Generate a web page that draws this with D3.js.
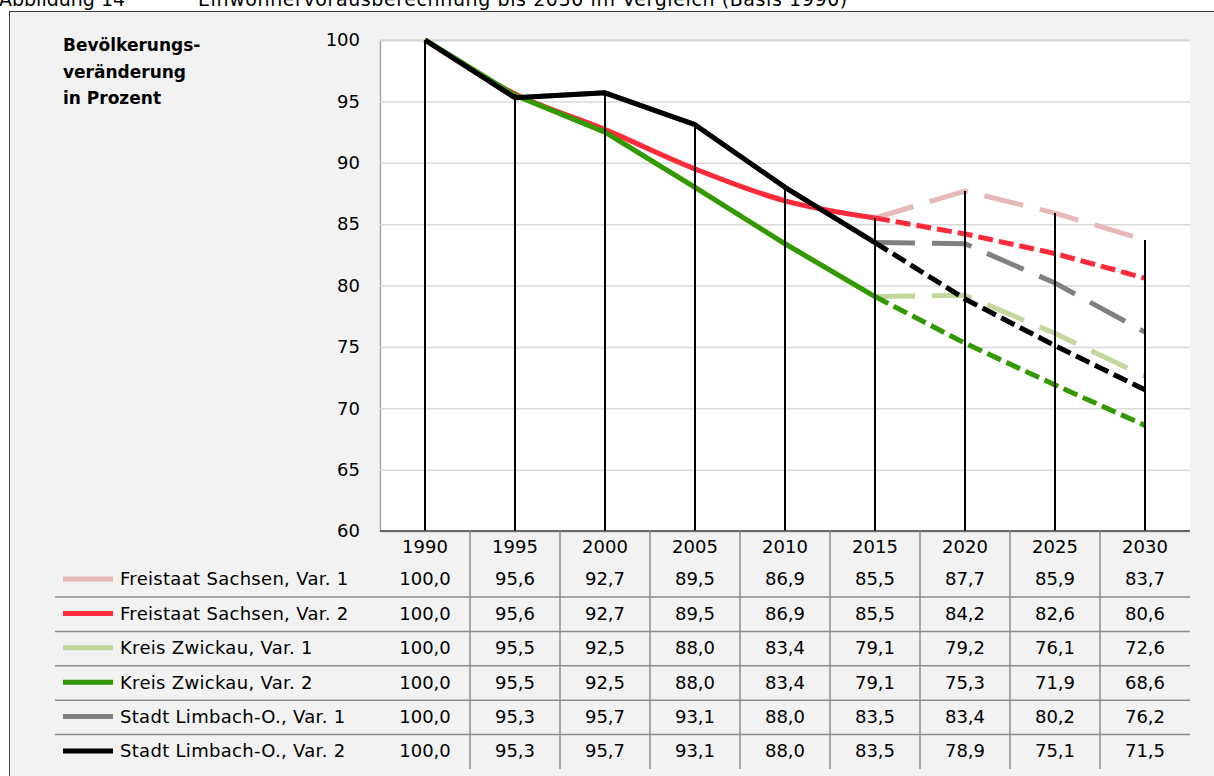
<!DOCTYPE html>
<html><head><meta charset="utf-8">
<script src="https://cdn.jsdelivr.net/npm/d3@7"></script>
<style>html,body{margin:0;padding:0;background:#fff;}svg{display:block;}</style>
</head><body>
<svg id="chart" width="1214" height="776"></svg>
<script>
const years = ["1990","1995","2000","2005","2010","2015","2020","2025","2030"];
const seriesNames = ["Freistaat Sachsen, Var. 1","Freistaat Sachsen, Var. 2","Kreis Zwickau, Var. 1","Kreis Zwickau, Var. 2","Stadt Limbach-O., Var. 1","Stadt Limbach-O., Var. 2"];
const sachsenVar1 = [100.0,95.6,92.7,89.5,86.9,85.5,87.7,85.9,83.7];
const sachsenVar2 = [100.0,95.6,92.7,89.5,86.9,85.5,84.2,82.6,80.6];
const zwickauVar1 = [100.0,95.5,92.5,88.0,83.4,79.1,79.2,76.1,72.6];
const zwickauVar2 = [100.0,95.5,92.5,88.0,83.4,79.1,75.3,71.9,68.6];
const limbachVar1 = [100.0,95.3,95.7,93.1,88.0,83.5,83.4,80.2,76.2];
const limbachVar2 = [100.0,95.3,95.7,93.1,88.0,83.5,78.9,75.1,71.5];
const yTicks = [60,65,70,75,80,85,90,95,100];
const colors = ["#e6b9b8","#ff2a3a","#c3d69b","#339900","#808080","#000000"];
const dashes = ["40,17","15,6","40,17","15,6","40,17","15,6"];
const smoothHist = [true,true,false,false,false,false];
const lastObserved = 5; // index of 2015

const seriesValues = [sachsenVar1,sachsenVar2,zwickauVar1,zwickauVar2,limbachVar1,limbachVar2];
const series = seriesNames.map((n,i)=>({name:n,values:seriesValues[i],color:colors[i],dash:dashes[i],smooth:smoothHist[i]}));

const FONT = "'DejaVu Sans', sans-serif";
const svg = d3.select("#chart");
const W = 1214, H = 776;
const L = 380, R = 1190, T = 40, B = 531;

svg.append("rect").attr("x",0).attr("y",0).attr("width",W).attr("height",H).attr("fill","#ffffff");
svg.append("rect").attr("x",9.5).attr("y",11.5).attr("width",W).attr("height",H).attr("fill","#f2f2f2").attr("stroke","#404040").attr("stroke-width",1);

// title (partly above the frame, as in the reference)
svg.append("text").attr("x",-1).attr("y",6).attr("font-family",FONT).attr("font-size",19).attr("fill","#000").text("Abbildung 14");
svg.append("text").attr("x",198).attr("y",6).attr("font-family",FONT).attr("font-size",19).attr("letter-spacing",0.6).attr("fill","#000").text("Einwohnervorausberechnung bis 2030 im Vergleich (Basis 1990)");

const x = d3.scaleBand().domain(years).range([L,R]).padding(0);
const y = d3.scaleLinear().domain([60,100]).range([B,T]);
const cx = d => x(d) + x.bandwidth()/2;

svg.append("rect").attr("x",L).attr("y",T).attr("width",R-L).attr("height",B-T).attr("fill","#fff");

const yAxis = d3.axisLeft(y).tickValues(yTicks).tickSize(-(R-L)).tickFormat(d3.format("d")).tickPadding(20);
const gy = svg.append("g").attr("transform",`translate(${L},0)`).call(yAxis);
gy.select(".domain").attr("stroke","#a6a6a6").attr("stroke-width",1.5);
gy.selectAll(".tick line").attr("stroke","#d9d9d9").attr("stroke-width",1.5);
gy.selectAll(".tick text").attr("font-family",FONT).attr("font-size",18).attr("fill","#000").attr("dy","0.32em");

const at = svg.append("text").attr("font-family",FONT).attr("font-size",17).attr("font-weight","bold").attr("fill","#000");
["Bevölkerungs-","veränderung","in Prozent"].forEach((t,i)=>{
  at.append("tspan").attr("x",63).attr("y",51+i*26.5).text(t);
});

series.forEach(s=>{
  const pts = s.values.map((v,i)=>({year:years[i],v}));
  s.hist = pts.slice(0,lastObserved+1);
  s.proj = pts.slice(lastObserved);
  s.genHist = d3.line().x(d=>cx(d.year)).y(d=>y(d.v)).curve(s.smooth ? d3.curveCatmullRom.alpha(0.5) : d3.curveLinear);
  s.genProj = d3.line().x(d=>cx(d.year)).y(d=>y(d.v));
});
[0,4,2,1,3,5].forEach(i=>{
  const s = series[i];
  svg.append("path").attr("d",s.genProj(s.proj)).attr("fill","none").attr("stroke",s.color).attr("stroke-width",5).attr("stroke-dasharray",s.dash);
});
[0,2,4,1,3,5].forEach(i=>{
  const s = series[i];
  svg.append("path").attr("d",s.genHist(s.hist)).attr("fill","none").attr("stroke",s.color).attr("stroke-width",5).attr("stroke-linejoin","round");
});

years.forEach((yr,i)=>{
  const mx = d3.max(series,s=>s.values[i]);
  svg.append("line").attr("x1",cx(yr)).attr("x2",cx(yr)).attr("y1",y(mx)).attr("y2",y(60)).attr("stroke","#000").attr("stroke-width",2);
});

svg.append("line").attr("x1",L).attr("x2",R).attr("y1",B).attr("y2",B).attr("stroke","#404040").attr("stroke-width",1.5);

const rowH = 34.4, headerY = 547, firstRowY = 579;
const tbl = svg.append("g");
years.forEach((yr,i)=>{
  tbl.append("text").attr("x",cx(yr)).attr("y",headerY).attr("dy","0.35em").attr("text-anchor","middle").attr("font-family",FONT).attr("font-size",18).text(yr);
  if(i<years.length-1){
    tbl.append("line").attr("x1",x(yr)+x.bandwidth()).attr("x2",x(yr)+x.bandwidth()).attr("y1",B).attr("y2",769).attr("stroke","#8c8c8c").attr("stroke-width",1.5);
  }
});
const fmt = v => d3.format(".1f")(v).replace(".",",");
series.forEach((s,r)=>{
  const ry = firstRowY + r*rowH;
  if(r<series.length-1){
    tbl.append("line").attr("x1",55).attr("x2",R).attr("y1",ry+18).attr("y2",ry+18).attr("stroke","#8c8c8c").attr("stroke-width",1.5);
  }
  tbl.append("line").attr("x1",63).attr("x2",113).attr("y1",ry).attr("y2",ry).attr("stroke",s.color).attr("stroke-width",5);
  tbl.append("text").attr("x",120).attr("y",ry).attr("dy","0.35em").attr("font-family",FONT).attr("font-size",18).attr("letter-spacing",0.3).text(s.name);
  s.values.forEach((v,i)=>{
    tbl.append("text").attr("x",cx(years[i])).attr("y",ry).attr("dy","0.35em").attr("text-anchor","middle").attr("font-family",FONT).attr("font-size",18).text(fmt(v));
  });
});
</script>
</body></html>
